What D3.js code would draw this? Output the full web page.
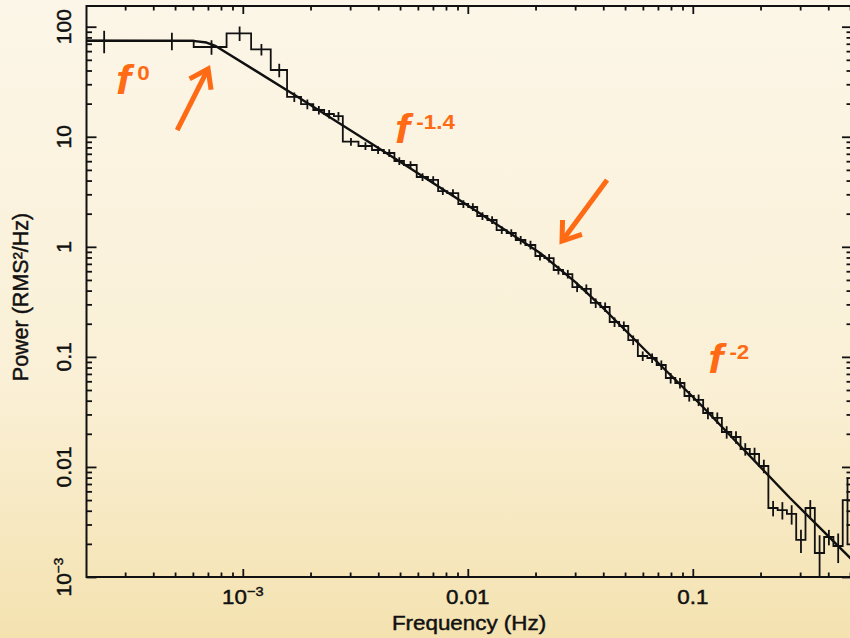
<!DOCTYPE html>
<html>
<head>
<meta charset="utf-8">
<script src="https://cdn.jsdelivr.net/npm/d3@7"></script>
<style>
    body { margin: 0; background: #fbf5e6; }
    svg { display: block; }
    text { font-family: "Liberation Sans", Arial, sans-serif; }
</style>
</head>
<body>
<script>
"use strict";
(function(){

    // frequency resolution of the periodogram (Hz)
    const df = 2.42e-4

    // bin edges of the binned power spectrum, in units of df
    const binEdgeN = [0.5, 1.5, 2.5, 3.5, 4.5, 5.5, 6.5, 7.5, 8.5, 9.5, 10.5, 11.5,
        13.5, 15.5, 17.5, 19.5, 21.5, 24.5, 27.5, 30.5, 33.5, 37.5, 41.5, 45.5, 50.5, 55.5,
        61.5, 67.5, 74.5, 82.5, 90.5, 99.5, 109.5, 120.5, 132.5, 145.5, 160.5, 176.5, 194.5,
        213.5, 235.5, 259.5, 285.5, 313.5, 345.5, 379.5, 417.5, 459.5, 505.5, 556.5, 612.5,
        673.5, 740.5, 814.5, 895.5, 984.5, 1082.5, 1190.5, 1309.5, 1440.5, 1584.5, 1742.5,
        1916.5, 2108.5]

    // power in each bin (RMS^2/Hz)
    const binPower = [
        74.6, 74.6, 65.4, 87.1, 62.3, 40.4, 23.0, 19.8, 17.5, 16.1,
        15.4, 9.02, 8.24, 7.58, 7.12, 6.02, 5.54, 4.31, 4.05, 3.21,
        3.08, 2.45, 2.30, 1.905, 1.753, 1.421, 1.335, 1.153, 1.039, 0.825,
        0.791, 0.616, 0.566, 0.431, 0.414, 0.309, 0.284, 0.2075, 0.1908, 0.1422,
        0.1019, 0.0977, 0.0844, 0.0643, 0.0579, 0.0441, 0.0406, 0.0309, 0.0279, 0.02077,
        0.0187, 0.01455, 0.01311, 0.0102, 0.004235, 0.00406, 0.00374, 0.00217, 0.004235, 0.001652,
        0.00231, 0.001912, 0.0050
    ]

    // relative 1-sigma error of each bin
    const binErr = [
        0.23, 0.18, 0.15, 0.15, 0.12, 0.14, 0.10, 0.10, 0.09, 0.09,
        0.09, 0.08, 0.08, 0.08, 0.08, 0.08, 0.08, 0.08, 0.08, 0.08,
        0.08, 0.08, 0.08, 0.08, 0.08, 0.08, 0.08, 0.09, 0.09, 0.09,
        0.09, 0.09, 0.09, 0.10, 0.10, 0.10, 0.10, 0.10, 0.10, 0.10,
        0.10, 0.10, 0.10, 0.11, 0.11, 0.11, 0.12, 0.12, 0.12, 0.13,
        0.13, 0.13, 0.14, 0.14, 0.16, 0.18, 0.20, 0.24, 0.18, 0.45,
        0.16, 0.30, 0.60
    ]

    // bending power law model
    const modelFreq = [2.02e-4, 6.00e-4, 6.90e-4, 7.60e-4, 1.80e-3, 5.00e-3, 9.93e-3,
        0.02096, 0.0300, 0.0387, 0.0646, 0.1077, 0.2704, 0.5105]
    const modelPower = [74.6, 74.3, 71.8, 66.5, 22.3, 5.93, 2.40,
        0.879, 0.480, 0.296, 0.104, 0.0373, 5.22e-3, 1.43e-3]

    const xTicks = [1e-3, 0.01, 0.1]
    const xTickLabels = [["10", "\u22123"], ["0.01", ""], ["0.1", ""]]
    const yTicks = [1e-3, 0.01, 0.1, 1, 10, 100]
    const yTickLabels = [["10", "\u22123"], ["0.01", ""], ["0.1", ""], ["1", ""], ["10", ""], ["100", ""]]

    // slope labels and arrows (frequency, power)
    const slopeLabels = [
        { sup: "0", f: 2.73e-4, p: 24.5 },
        { sup: "-1.4", f: 4.75e-3, p: 8.78 },
        { sup: "-2", f: 0.117, p: 0.0714 }
    ]
    const arrows = [
        { from: [5.11e-4, 11.5], to: [7.01e-4, 41.3] },
        { from: [0.04158, 4.05], to: [0.02623, 1.129] }
    ]

    const measurements = {
        width: 850,
        height: 638,
        left: 86.5,
        right: 852,
        top: 6,
        bottom: 577
    }
    const orange = "#ff6a14"
    const stretch = "scale(1.12,1)"

    const svg = d3.select("body").append("svg")
        .attr("width", measurements.width)
        .attr("height", measurements.height)

    const defs = svg.append("defs")
    const grad = defs.append("linearGradient")
        .attr("id", "bg")
        .attr("x1", 0).attr("y1", 0).attr("x2", 0).attr("y2", 1)
    grad.append("stop").attr("offset", "0%").attr("stop-color", "#fcf6e8")
    grad.append("stop").attr("offset", "60%").attr("stop-color", "#faf0d6")
    grad.append("stop").attr("offset", "100%").attr("stop-color", "#f4e2b0")

    defs.append("clipPath").attr("id", "plot")
        .append("rect")
        .attr("x", measurements.left)
        .attr("y", measurements.top)
        .attr("width", measurements.right - measurements.left)
        .attr("height", measurements.bottom - measurements.top)

    svg.append("rect")
        .attr("width", measurements.width)
        .attr("height", measurements.height)
        .attr("fill", "url(#bg)")

    const x = d3.scaleLog()
        .domain([2.02e-4, 0.51])
        .range([measurements.left, measurements.right])

    const y = d3.scaleLog()
        .domain([154.2, 1e-3])
        .range([measurements.top, measurements.bottom])

    drawAxes()
    plotData()
    drawLabels()
    drawAnnotations()

    function isMajor(v) {
        const l = Math.log10(v)
        return Math.abs(l - Math.round(l)) < 1e-6
    }

    function tickAxis(axisFn, scale, values, size, transform) {
        const g = svg.append("g")
            .attr("transform", transform)
            .call(axisFn(scale).tickValues(values).tickSize(size).tickFormat(""))
        g.select(".domain").remove()
        g.selectAll("line")
            .attr("stroke", "#111")
            .attr("stroke-width", 1.8)
    }

    function drawAxes() {
        const xMinor = x.ticks().filter((v) => !isMajor(v))
        const yMinor = y.ticks().filter((v) => !isMajor(v))

        tickAxis(d3.axisBottom, x, xTicks, -8, "translate(0," + measurements.bottom + ")")
        tickAxis(d3.axisBottom, x, xMinor, -4.5, "translate(0," + measurements.bottom + ")")
        tickAxis(d3.axisTop, x, xTicks, -8, "translate(0," + measurements.top + ")")
        tickAxis(d3.axisTop, x, xMinor, -4.5, "translate(0," + measurements.top + ")")
        tickAxis(d3.axisLeft, y, yTicks, -10, "translate(" + measurements.left + ",0)")
        tickAxis(d3.axisLeft, y, yMinor, -5.5, "translate(" + measurements.left + ",0)")
        tickAxis(d3.axisRight, y, yTicks, -10, "translate(" + measurements.right + ",0)")
        tickAxis(d3.axisRight, y, yMinor, -5.5, "translate(" + measurements.right + ",0)")

        svg.append("rect")
            .attr("x", measurements.left)
            .attr("y", measurements.top)
            .attr("width", measurements.right - measurements.left)
            .attr("height", measurements.bottom - measurements.top)
            .attr("fill", "none")
            .attr("stroke", "#111")
            .attr("stroke-width", 2)
    }

    function plotData() {
        const bins = binPower.map((p, i) => {
            const lo = binEdgeN[i] * df
            const hi = binEdgeN[i + 1] * df
            return { lo: lo, hi: hi, mid: (lo + hi) / 2, p: p, e: binErr[i] }
        })

        const plot = svg.append("g").attr("clip-path", "url(#plot)")

        const steps = []
        bins.forEach((b) => {
            steps.push([x(b.lo), y(b.p)])
            steps.push([x(b.hi), y(b.p)])
        })

        plot.append("path")
            .attr("d", d3.line()(steps))
            .attr("fill", "none")
            .attr("stroke", "#111")
            .attr("stroke-width", 1.8)

        plot.selectAll(".err")
            .data(bins)
            .enter()
            .append("line")
                .attr("class", "err")
                .attr("x1", (d) => x(d.mid))
                .attr("x2", (d) => x(d.mid))
                .attr("y1", (d) => y(d.p * (1 + d.e)))
                .attr("y2", (d) => y(Math.max(d.p * (1 - d.e), 1e-4)))
                .attr("stroke", "#111")
                .attr("stroke-width", 1.8)

        const model = modelFreq.map((f, i) => [f, modelPower[i]])
        plot.append("path")
            .attr("d", d3.line()
                .x((d) => x(d[0]))
                .y((d) => y(d[1]))(model))
            .attr("fill", "none")
            .attr("stroke", "#111")
            .attr("stroke-width", 2.4)
            .attr("stroke-linejoin", "round")
    }

    function addLabel(g, parts, baseSize, supSize) {
        const t = g.append("text")
            .attr("text-anchor", "middle")
            .attr("font-size", baseSize)
            .attr("fill", "#111")
            .attr("stroke", "#111")
            .attr("stroke-width", 0.45)
        t.append("tspan").text(parts[0])
        if (parts[1]) {
            t.append("tspan")
                .attr("font-size", supSize)
                .attr("dy", -8)
                .text(parts[1])
        }
    }

    function drawLabels() {
        xTicks.forEach((v, i) => {
            const g = svg.append("g")
                .attr("transform", "translate(" + x(v) + ",604) " + stretch)
            addLabel(g, xTickLabels[i], 20, 13)
        })

        yTicks.forEach((v, i) => {
            const g = svg.append("g")
                .attr("transform", "translate(71," + y(v) + ") rotate(-90)")
            addLabel(g, yTickLabels[i], 21, 13.5)
        })

        svg.append("text")
            .attr("text-anchor", "middle")
            .attr("font-size", 20)
            .attr("fill", "#111")
            .attr("stroke", "#111")
            .attr("stroke-width", 0.45)
            .attr("transform", "translate(469,630) " + stretch)
            .text("Frequency (Hz)")

        svg.append("text")
            .attr("text-anchor", "middle")
            .attr("font-size", 21.5)
            .attr("fill", "#111")
            .attr("stroke", "#111")
            .attr("stroke-width", 0.45)
            .attr("transform", "translate(28,297) rotate(-90)")
            .text("Power (RMS\u00b2/Hz)")
    }

    function drawAnnotations() {
        slopeLabels.forEach((d) => {
            const g = svg.append("g")
                .attr("transform", "translate(" + x(d.f) + "," + y(d.p) + ") " + stretch)
            g.append("text")
                .attr("font-size", 40)
                .attr("font-weight", "bold")
                .attr("font-style", "italic")
                .attr("fill", orange)
                .text("f")
            g.append("text")
                .attr("x", 19)
                .attr("y", -14)
                .attr("font-size", 20)
                .attr("font-weight", "bold")
                .attr("fill", orange)
                .text(d.sup)
        })

        arrows.forEach((a) => {
            const x0 = x(a.from[0]), y0 = y(a.from[1])
            const x1 = x(a.to[0]), y1 = y(a.to[1])
            const ang = Math.atan2(y0 - y1, x0 - x1)
            const len = 21, spread = 35 * Math.PI / 180
            const arm1 = [x1 + len * Math.cos(ang + spread), y1 + len * Math.sin(ang + spread)]
            const arm2 = [x1 + len * Math.cos(ang - spread), y1 + len * Math.sin(ang - spread)]

            svg.append("path")
                .attr("d", d3.line()([[x0, y0], [x1, y1]]))
                .attr("stroke", orange)
                .attr("stroke-width", 5)
                .attr("fill", "none")
            svg.append("path")
                .attr("d", d3.line()([arm1, [x1, y1], arm2]))
                .attr("stroke", orange)
                .attr("stroke-width", 5)
                .attr("stroke-linejoin", "miter")
                .attr("fill", "none")
        })
    }
})()
</script>
</body>
</html>
